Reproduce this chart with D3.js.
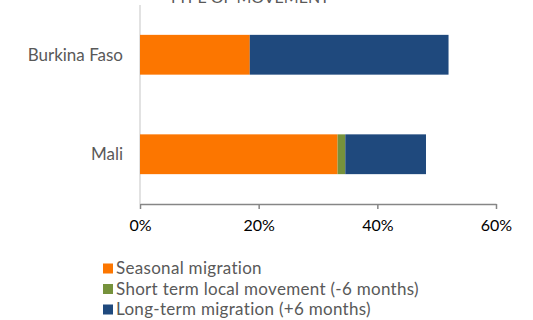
<!DOCTYPE html>
<html>
<head>
<meta charset="utf-8">
<script src="https://cdn.jsdelivr.net/npm/d3@7"></script>
<style>
  html, body { margin: 0; padding: 0; background: #fff; }
  svg { display: block; font-family: Lato, "Open Sans", sans-serif; }
</style>
</head>
<body>
<svg id="chart" width="533" height="320"></svg>
<script>
// Share of respondents by type of movement
const countries = ["Burkina Faso", "Mali"];
const seriesNames = [
  "Seasonal migration",
  "Short term local movement (-6 months)",
  "Long-term migration (+6 months)"
];
const seasonal = [18.5, 33.3];
const shortTerm = [0, 1.3];
const longTerm = [33.5, 13.6];
const xTicks = [0, 20, 40, 60];
const colors = ["#fc7600", "#76923c", "#1f497d"];

const svg = d3.select("#chart");
const margin = { left: 140, right: 37, top: 5, bottom: 116 };
const W = 533, H = 320;

const x = d3.scaleLinear().domain([0, 60]).range([margin.left, W - margin.right]);
const y = d3.scaleBand().domain(countries).range([margin.top, H - margin.bottom]).paddingInner(0.6).paddingOuter(0.3);

const rows = countries.map((c, i) => ({ country: c, s0: seasonal[i], s1: shortTerm[i], s2: longTerm[i] }));
const stack = d3.stack().keys(["s0", "s1", "s2"])(rows);

// Title (runs off the top edge)
svg.append("text")
  .attr("x", 249).attr("y", 3)
  .attr("text-anchor", "middle")
  .attr("font-size", 16)
  .attr("fill", "#595959")
  .text("TYPE OF MOVEMENT");

// Vertical category axis line
svg.append("line")
  .attr("x1", x(0)).attr("x2", x(0))
  .attr("y1", margin.top).attr("y2", H - margin.bottom)
  .attr("stroke", "#d9d9d9").attr("stroke-width", 1.5);

// Stacked bars
svg.append("g").selectAll("g").data(stack).join("g")
  .attr("fill", (d, i) => colors[i])
  .selectAll("rect").data(d => d).join("rect")
  .attr("x", d => x(d[0]))
  .attr("width", d => x(d[1]) - x(d[0]))
  .attr("y", d => y(d.data.country))
  .attr("height", y.bandwidth());

// Category labels
svg.append("g").selectAll("text").data(countries).join("text")
  .attr("x", 123)
  .attr("y", d => y(d) + y.bandwidth() / 2)
  .attr("dy", "0.35em")
  .attr("text-anchor", "end")
  .attr("font-size", 17)
  .attr("fill", "#595959")
  .text(d => d);

// Value axis
const xAxis = svg.append("g")
  .attr("transform", `translate(0,${H - margin.bottom})`)
  .call(d3.axisBottom(x).tickValues(xTicks).tickFormat(d => d + "%").tickSize(5).tickSizeOuter(0).tickPadding(11));
xAxis.select(".domain").attr("stroke", "#868686").attr("stroke-width", 1.5);
xAxis.selectAll(".tick line").attr("stroke", "#868686").attr("stroke-width", 1.5);
xAxis.selectAll(".tick text").attr("font-size", 16).attr("fill", "#000").attr("font-family", "Lato, sans-serif");

// Legend
const legend = svg.append("g").selectAll("g").data(seriesNames).join("g")
  .attr("transform", (d, i) => `translate(103,${268.5 + i * 20.5})`);
legend.append("rect")
  .attr("x", 0).attr("y", -5).attr("width", 10).attr("height", 10)
  .attr("fill", (d, i) => colors[i]);
legend.append("text")
  .attr("x", 13).attr("y", 0).attr("dy", "0.35em")
  .attr("font-size", 17)
  .attr("letter-spacing", 0.3)
  .attr("fill", "#595959")
  .text(d => d);
</script>
</body>
</html>
